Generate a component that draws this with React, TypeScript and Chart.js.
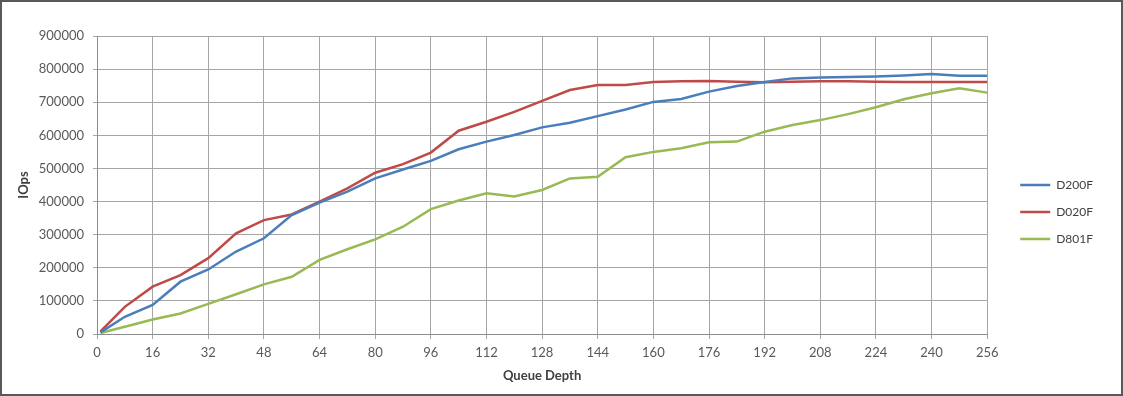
import React, { useEffect, useRef } from 'react';
import { Chart, registerables } from 'chart.js';

Chart.register(...registerables);

const queueDepth = [1, 8, 16, 24, 32, 40, 48, 56, 64, 72, 80, 88, 96, 104, 112, 120, 128, 136, 144, 152, 160, 168, 176, 184, 192, 200, 208, 216, 224, 232, 240, 248, 256];

const d200f = [5000, 52000, 88000, 158000, 195000, 249000, 289000, 359000, 397000, 430000, 470000, 497000, 523000, 558000, 581000, 601000, 624000, 638000, 658000, 678000, 701000, 710000, 732000, 749000, 761000, 772000, 775000, 776000, 778000, 781000, 785000, 780000, 780000];

const d020f = [8000, 82000, 143000, 178000, 229000, 304000, 344000, 361000, 400000, 440000, 487000, 513000, 548000, 614000, 641000, 671000, 704000, 737000, 752000, 752000, 761000, 763000, 764000, 762000, 760000, 762000, 763000, 763000, 762000, 761000, 761000, 761000, 761000];

const d801f = [3000, 22000, 44000, 62000, 91000, 120000, 150000, 173000, 224000, 256000, 286000, 324000, 377000, 403000, 425000, 415000, 435000, 470000, 475000, 534000, 550000, 561000, 579000, 581000, 611000, 631000, 646000, 664000, 685000, 709000, 727000, 742000, 729000];

const seriesNames = ['D200F', 'D020F', 'D801F'];
const seriesColors = ['#4A7EBB', '#BE4B48', '#98B954'];

const xMin = 0;
const xMax = 256;
const xStep = 16;
const yMin = 0;
const yMax = 900000;
const yStep = 100000;

const xTitle = 'Queue Depth';
const yTitle = 'IOps';

const FONT = 'Lato, "Open Sans", sans-serif';

export default function App() {
  const canvasRef = useRef<HTMLCanvasElement | null>(null);

  useEffect(() => {
    document.body.style.margin = '0';
    const canvas = canvasRef.current;
    if (!canvas) return;
    const series = [d200f, d020f, d801f];
    const chart = new Chart(canvas, {
      type: 'line',
      data: {
        datasets: series.map((vals, i) => ({
          label: seriesNames[i],
          data: queueDepth.map((q, j) => ({ x: q, y: vals[j] })),
          borderColor: seriesColors[i],
          backgroundColor: seriesColors[i],
          borderWidth: 2.5,
          pointRadius: 0,
          pointHoverRadius: 0,
          tension: 0,
          fill: false,
        })),
      },
      options: {
        responsive: false,
        maintainAspectRatio: false,
        animation: false,
        events: [],
        layout: { padding: { left: 10, right: 18, top: 34, bottom: 6 } },
        plugins: {
          tooltip: { enabled: false },
          title: { display: false },
          legend: {
            display: true,
            position: 'right',
            align: 'center',
            labels: {
              usePointStyle: true,
              pointStyle: 'line',
              pointStyleWidth: 30,
              padding: 15,
              color: '#404040',
              font: { family: FONT, size: 12 },
            },
          },
        },
        scales: {
          x: {
            type: 'linear',
            min: xMin,
            max: xMax,
            afterFit: (scale: any) => { scale.height = 54; },
            ticks: {
              stepSize: xStep,
              padding: 6,
              color: '#595959',
              font: { family: FONT, size: 13 },
              maxRotation: 0,
              callback: (v: any) => String(v),
            },
            grid: { color: '#a6a6a6', lineWidth: 1, tickLength: 5, drawTicks: true },
            border: { color: '#8c8c8c', width: 1 },
            title: { display: true, text: xTitle, color: '#404040', font: { family: FONT, size: 13, weight: 'bold' } },
          },
          y: {
            type: 'linear',
            min: yMin,
            max: yMax,
            afterFit: (scale: any) => { scale.width = 85; },
            ticks: {
              stepSize: yStep,
              padding: 9,
              color: '#595959',
              font: { family: FONT, size: 13 },
              callback: (v: any) => String(v),
            },
            grid: { color: '#a6a6a6', lineWidth: 1, tickLength: 4, drawTicks: true },
            border: { color: '#8c8c8c', width: 1 },
            title: { display: true, text: yTitle, color: '#404040', font: { family: FONT, size: 13, weight: 'bold' } },
          },
          gap: {
            type: 'linear',
            position: 'right',
            display: true,
            afterFit: (scale: any) => { scale.width = 18; },
            ticks: { display: false },
            grid: { display: false, drawTicks: false },
            border: { display: false },
          },
        },
      } as any,
    });
    return () => chart.destroy();
  }, []);

  return (
    <div style={{ width: 1123, height: 396, boxSizing: 'border-box', border: '2px solid #595959', background: '#fff' }}>
      <canvas ref={canvasRef} width={1119} height={392} style={{ display: 'block', width: 1119, height: 392 }} />
    </div>
  );
}
